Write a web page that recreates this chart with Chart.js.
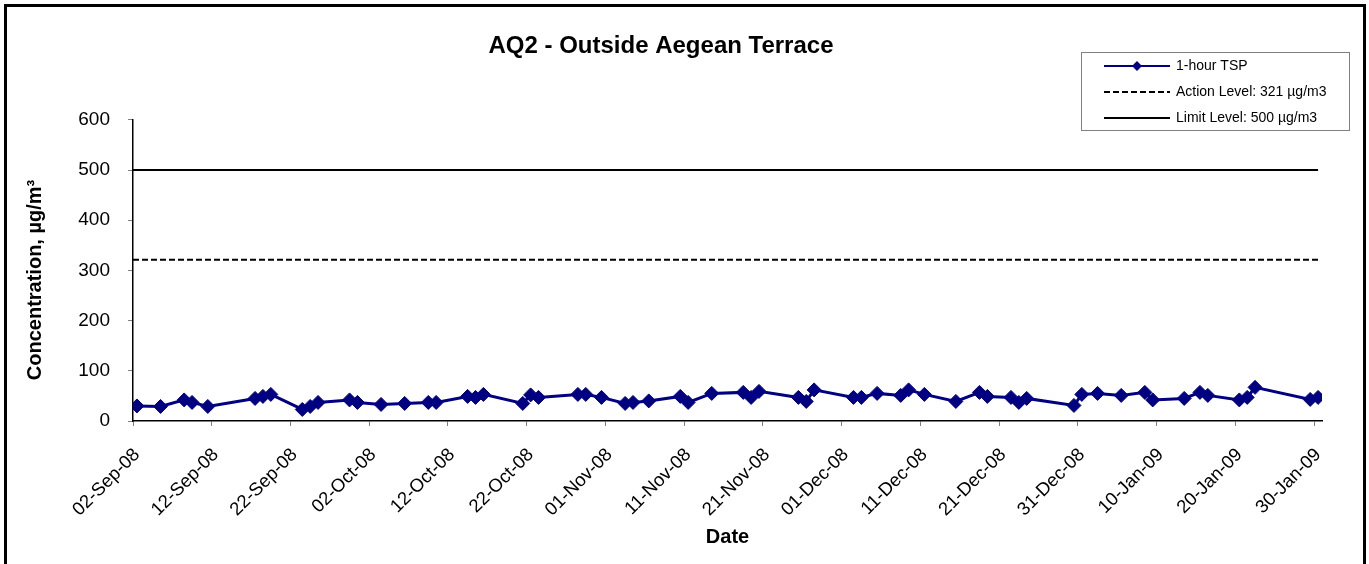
<!DOCTYPE html>
<html>
<head>
<meta charset="utf-8">
<title>AQ2 - Outside Aegean Terrace</title>
<script src="https://cdn.jsdelivr.net/npm/chart.js@4.4.1/dist/chart.umd.min.js"></script>
<style>
  html, body { margin: 0; padding: 0; background: #fff; overflow: hidden; }
  #frame { position: absolute; left: 4px; top: 4px; width: 1362px; height: 640px; border: 3px solid #000; box-sizing: border-box; }
  #wrap { position: absolute; left: 0; top: 0; width: 1369px; height: 564px; }
</style>
</head>
<body>
<div id="frame"></div>
<div id="wrap"><canvas id="chart" width="1369" height="564"></canvas></div>
<script>
// sampling dates and 1-hour TSP results (ug/m3)
const startDate = '2008-09-02';
const sampleDates = [
  '2008-09-02', '2008-09-05', '2008-09-08', '2008-09-09', '2008-09-11', '2008-09-17', '2008-09-18', '2008-09-19',
  '2008-09-23', '2008-09-24', '2008-09-25', '2008-09-29', '2008-09-30', '2008-10-03', '2008-10-06',
  '2008-10-09', '2008-10-10', '2008-10-14', '2008-10-15', '2008-10-16', '2008-10-21', '2008-10-22', '2008-10-23',
  '2008-10-28', '2008-10-29', '2008-10-31', '2008-11-03', '2008-11-04', '2008-11-06', '2008-11-10', '2008-11-11',
  '2008-11-14', '2008-11-18', '2008-11-19', '2008-11-20', '2008-11-25', '2008-11-26', '2008-11-27',
  '2008-12-02', '2008-12-03', '2008-12-05', '2008-12-08', '2008-12-09', '2008-12-11', '2008-12-15',
  '2008-12-18', '2008-12-19', '2008-12-22', '2008-12-23', '2008-12-24', '2008-12-30', '2008-12-31',
  '2009-01-02', '2009-01-05', '2009-01-08', '2009-01-09', '2009-01-13', '2009-01-15', '2009-01-16',
  '2009-01-20', '2009-01-21', '2009-01-22', '2009-01-29', '2009-01-30'
];
const tspValues = [
  30, 29, 42, 37, 29, 45, 49, 53, 23, 29, 37, 42, 37, 33, 35,
  37, 37, 49, 47, 53, 35, 52, 47, 53, 53, 47, 35, 37, 40, 49, 37, 55,
  57, 47, 59, 47, 39, 62, 47, 47, 55, 51, 62, 53, 39, 57, 49, 47, 37,
  45, 31, 53, 55, 51, 57, 42, 45, 57, 51, 42, 47, 67, 43, 47
];
const actionLevel = 321;
const limitLevel = 500;
const tickLabels = [
  '02-Sep-08', '12-Sep-08', '22-Sep-08', '02-Oct-08', '12-Oct-08', '22-Oct-08', '01-Nov-08', '11-Nov-08',
  '21-Nov-08', '01-Dec-08', '11-Dec-08', '21-Dec-08', '31-Dec-08', '10-Jan-09', '20-Jan-09', '30-Jan-09'
];
const yTicks = [0, 100, 200, 300, 400, 500, 600];
const yTitle = 'Concentration, \u00b5g/m\u00b3';

const FONT = 'Liberation Sans, Arial, Helvetica, sans-serif';

// days since the first label; samples sit in the middle of their day
function dayOf(s) {
  return (Date.parse(s) - Date.parse(startDate)) / 86400000;
}
const xs = sampleDates.map(s => dayOf(s) + 0.5);
const lastX = xs[xs.length - 1];

// y title drawn by hand so it can sit a little lower, as in the original
const yTitlePlugin = {
  id: 'yTitlePlugin',
  afterDraw(chart) {
    const c = chart.ctx;
    c.save();
    c.translate(35, 280);
    c.rotate(-Math.PI / 2);
    c.font = 'bold 20px ' + FONT;
    c.fillStyle = '#000';
    c.textAlign = 'center';
    c.textBaseline = 'middle';
    c.fillText(yTitle, 0, 0);
    c.restore();
  }
};

// legend drawn as a bordered box in the top right
const legendBox = {
  id: 'legendBox',
  afterDraw(chart) {
    const c = chart.ctx;
    c.save();
    c.strokeStyle = '#808080';
    c.lineWidth = 1;
    c.strokeRect(1081.5, 52.5, 268, 78);
    c.font = '14px ' + FONT;
    c.textBaseline = 'middle';
    chart.data.datasets.forEach((ds, i) => {
      const y = 66 + i * 26;
      c.beginPath();
      c.strokeStyle = ds.borderColor;
      c.lineWidth = ds.borderWidth > 2 ? 2 : ds.borderWidth;
      c.setLineDash(ds.borderDash || []);
      c.moveTo(1104, y);
      c.lineTo(1170, y);
      c.stroke();
      c.setLineDash([]);
      if (ds.pointRadius > 0) {
        c.fillStyle = ds.backgroundColor;
        c.beginPath();
        c.moveTo(1137, y - 5); c.lineTo(1142, y); c.lineTo(1137, y + 5); c.lineTo(1132, y);
        c.closePath();
        c.fill();
      }
      c.fillStyle = '#000';
      c.fillText(ds.label, 1176, y);
    });
    c.restore();
  }
};

const ctx = document.getElementById('chart');
const chart = new Chart(ctx, {
  type: 'line',
  data: {
    datasets: [
      {
        label: '1-hour TSP',
        data: xs.map((x, i) => ({ x: x, y: tspValues[i] })),
        borderColor: '#000080',
        backgroundColor: '#000080',
        borderWidth: 3,
        pointStyle: 'rectRot',
        pointRadius: 7,
        pointBorderWidth: 1,
        tension: 0
      },
      {
        label: 'Action Level: 321 \u00b5g/m3',
        data: [{ x: 0, y: actionLevel }, { x: lastX, y: actionLevel }],
        borderColor: '#000',
        backgroundColor: '#000',
        borderWidth: 2,
        borderDash: [6, 3],
        pointRadius: 0
      },
      {
        label: 'Limit Level: 500 \u00b5g/m3',
        data: [{ x: 0, y: limitLevel }, { x: lastX, y: limitLevel }],
        borderColor: '#000',
        backgroundColor: '#000',
        borderWidth: 2,
        pointRadius: 0
      }
    ]
  },
  options: {
    responsive: false,
    animation: false,
    layout: {
      padding: { top: 20, right: 47, left: 0, bottom: 0 }
    },
    scales: {
      x: {
        type: 'linear',
        min: 0,
        max: 151,
        afterFit: (scale) => { scale.height = 143; },
        afterBuildTicks: (scale) => {
          scale.ticks = tickLabels.map((t, i) => ({ value: i * 10 }));
        },
        grid: {
          drawOnChartArea: false,
          drawTicks: true,
          tickLength: 5,
          color: '#808080'
        },
        border: { display: true, color: '#000', width: 1.5 },
        ticks: {
          autoSkip: false,
          minRotation: 45,
          maxRotation: 45,
          padding: 18,
          labelOffset: 4,
          color: '#000',
          font: { family: FONT, size: 18.5 },
          callback: (value, index) => tickLabels[index]
        },
        title: {
          display: true,
          text: 'Date',
          color: '#000',
          font: { family: FONT, size: 20, weight: 'bold' },
          padding: { top: 0, bottom: 15 }
        }
      },
      y: {
        min: 0,
        max: 600,
        afterFit: (scale) => { scale.width = 133; },
        afterBuildTicks: (scale) => {
          scale.ticks = yTicks.map(v => ({ value: v }));
        },
        grid: {
          drawOnChartArea: false,
          drawTicks: true,
          tickLength: 5,
          color: '#808080'
        },
        border: { display: true, color: '#000', width: 1.5 },
        ticks: {
          color: '#000',
          padding: 18,
          font: { family: FONT, size: 19 }
        }
      }
    },
    plugins: {
      legend: { display: false },
      tooltip: { enabled: false },
      title: {
        display: true,
        text: 'AQ2 - Outside Aegean Terrace',
        color: '#000',
        font: { family: FONT, size: 24, weight: 'bold' },
        padding: { top: 12, bottom: 59 }
      }
    }
  },
  plugins: [legendBox, yTitlePlugin]
});
</script>
</body>
</html>
